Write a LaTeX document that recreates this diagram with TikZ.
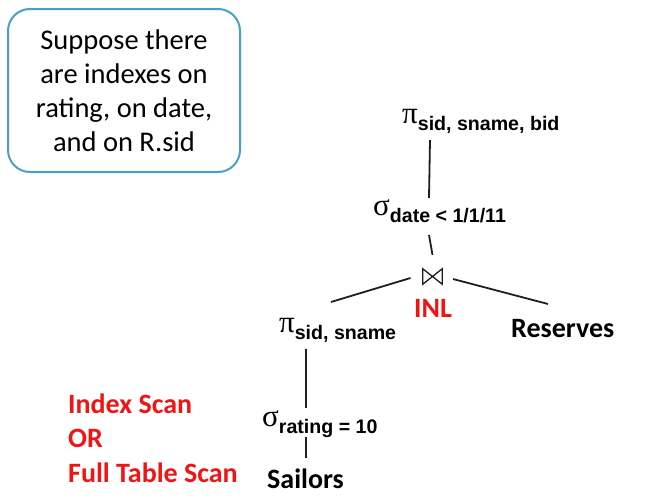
\documentclass[tikz,border=0pt]{standalone}
\usepackage{fontspec}
\setmainfont{Carlito}
\newfontfamily\arb{Liberation Sans}
\newfontfamily\grk{Liberation Serif}
\definecolor{boxblue}{RGB}{75,158,200}
\definecolor{optred}{RGB}{240,20,20}
\definecolor{ink}{RGB}{30,30,30}
\newcommand\relop[2]{{\fontsize{31}{31}\selectfont\grk #1}\raisebox{-7.5pt}{\fontsize{19.6}{19.6}\selectfont\arb\bfseries #2}}
\tikzset{
  opnode/.style={inner sep=0pt, anchor=base west, text=black},
  relname/.style={inner sep=0pt, anchor=base west, font=\fontsize{28}{28}\selectfont\bfseries, text=black},
  edge/.style={draw=ink, line width=1.8pt},
  notebox/.style={draw=boxblue, line width=2pt, rounded corners=22pt, minimum width=232pt, minimum height=163pt, inner sep=0pt, align=center, font=\fontsize{28.5}{34}\selectfont},
  redtext/.style={inner sep=0pt, align=left, text=optred, font=\fontsize{28}{34.5}\selectfont\bfseries},
}
\begin{document}
\begin{tikzpicture}[x=1pt,y=-1pt]
\useasboundingbox (0,0) rectangle (649,498);
\node[notebox] (note) at (124,90.5) {Suppose there\\are indexes on\\rating, on date,\\and on R.sid};
\node[opnode] (p1) at (402,123) {\relop{π}{sid, sname, bid}};
\node[opnode] (s1) at (373,215) {\relop{σ}{date < 1/1/11}};
\node[minimum width=19pt, minimum height=15pt, inner sep=0pt] (j) at (432.5,276.5) {};
\draw[ink, line width=1.3pt, line join=miter] (j.north west) -- (j.south west) -- (j.north east) -- (j.south east) -- cycle;
\node[relname, text=optred] (inl) at (414,317) {INL};
\node[relname] (res) at (511,337) {Reserves};
\node[opnode] (p2) at (279,332) {\relop{π}{sid, sname}};
\node[opnode] (s2) at (262,426) {\relop{σ}{rating = 10}};
\node[relname] (sail) at (267,488) {Sailors};
\node[redtext, anchor=north west] (scan) at (68,393.5) {Index Scan\\OR\\Full Table Scan};
\draw[edge] ([shift={(28,17)}]p1.base west) -- ([shift={(56,-17)}]s1.base west);
\draw[edge] ([shift={(56,20)}]s1.base west) -- ([shift={(0,-14)}]j.north);
\draw[edge] ([shift={(-22,1.5)}]j.center) -- ([shift={(52,-30)}]p2.base west);
\draw[edge] ([shift={(20.5,2.5)}]j.center) -- ([shift={(37,-33)}]res.base west);
\draw[edge] ([shift={(27,17)}]p2.base west) -- ([shift={(44,-18)}]s2.base west);
\draw[edge] ([shift={(44,11)}]s2.base west) -- ([shift={(39,-30)}]sail.base west);
\end{tikzpicture}
\end{document}
